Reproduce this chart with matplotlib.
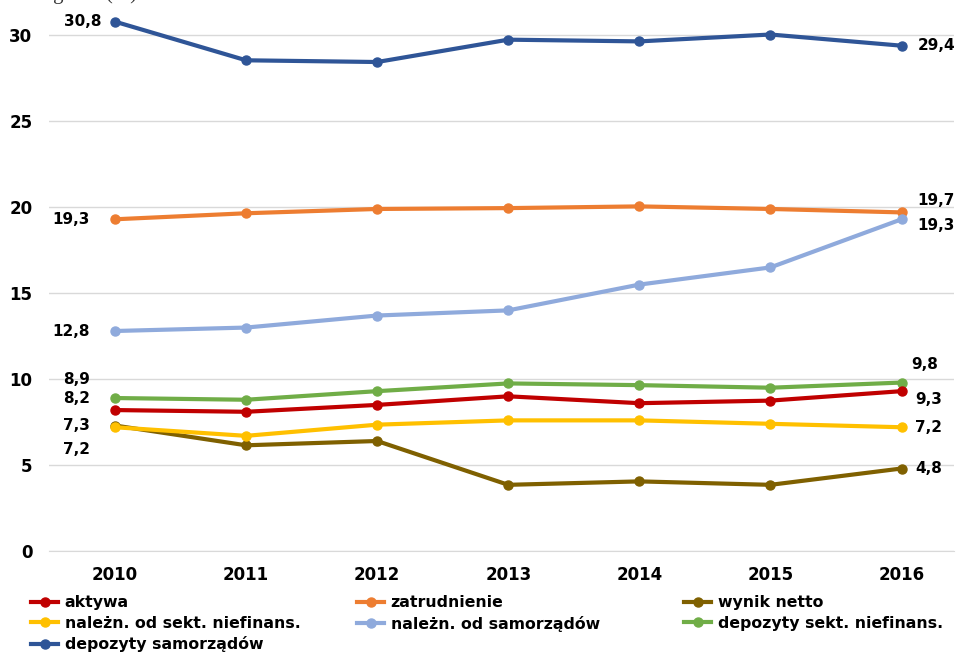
import matplotlib.pyplot as plt
from matplotlib.lines import Line2D

plt.rcParams['font.family'] = ['DejaVu Sans']

years = ['2010', '2011', '2012', '2013', '2014', '2015', '2016']

aktywa = [8.2, 8.1, 8.5, 9.0, 8.6, 8.75, 9.3]
zatrudnienie = [19.3, 19.65, 19.9, 19.95, 20.05, 19.9, 19.7]
wynik_netto = [7.3, 6.15, 6.4, 3.85, 4.05, 3.85, 4.8]
nalezn_niefin = [7.2, 6.7, 7.35, 7.6, 7.6, 7.4, 7.2]
nalezn_samorz = [12.8, 13.0, 13.7, 14.0, 15.5, 16.5, 19.3]
depoz_niefin = [8.9, 8.8, 9.3, 9.75, 9.65, 9.5, 9.8]
depoz_samorz = [30.8, 28.55, 28.45, 29.75, 29.65, 30.05, 29.4]

names = ['aktywa', 'zatrudnienie', 'wynik netto',
         'należn. od sekt. niefinans.', 'należn. od samorządów',
         'depozyty sekt. niefinans.', 'depozyty samorządów']
series = [aktywa, zatrudnienie, wynik_netto, nalezn_niefin,
          nalezn_samorz, depoz_niefin, depoz_samorz]
colors = ['#C00000', '#ED7D31', '#7F6000', '#FFC000',
          '#8FAADC', '#70AD47', '#2F5597']

fig = plt.figure(figsize=(9.56, 6.55), dpi=100)
ax = fig.add_axes([49 / 956, 104 / 655, 905 / 956, 550 / 655])

x = list(range(len(years)))
# draw order: later series on top
order = [6, 1, 4, 5, 0, 2, 3]
for z, i in enumerate(order):
    ax.plot(x, series[i], color=colors[i], lw=3.0, marker='o', ms=6.5,
            clip_on=False, zorder=3 + z)

ax.set_xlim(-0.503, 6.40)
ax.set_ylim(0, 32)
ax.set_yticks([0, 5, 10, 15, 20, 25, 30])
ax.set_xticks(x)
ax.set_xticklabels(years)
ax.grid(axis='y', color='#D9D9D9', lw=1)
ax.set_axisbelow(True)
for s in ax.spines.values():
    s.set_visible(False)
ax.spines['bottom'].set_visible(True)
ax.spines['bottom'].set_color('#D9D9D9')
ax.tick_params(length=0, labelsize=12)
for t in ax.get_xticklabels() + ax.get_yticklabels():
    t.set_fontweight('bold')
ax.tick_params(axis='x', pad=11)
ax.tick_params(axis='y', pad=12)


def fmt(v):
    return ('%.1f' % v).replace('.', ',')


def label(i, v, dx, dy):
    ax.annotate(fmt(v), (i, v), xytext=(dx, dy), textcoords='offset points',
                ha='right' if dx < 0 else 'left', va='center',
                fontsize=11, fontweight='bold', color='black', zorder=20)


# left-side value labels (2010)
label(0, depoz_samorz[0], -9.5, 0)
label(0, zatrudnienie[0], -18, 0)
label(0, nalezn_samorz[0], -18, 0)
label(0, depoz_niefin[0], -18, 13.7)
label(0, aktywa[0], -18, 8)
label(0, wynik_netto[0], -18, 0)
label(0, nalezn_niefin[0], -18, -16)

# right-side value labels (2016)
label(6, depoz_samorz[-1], 11.5, 0)
label(6, zatrudnienie[-1], 11, 8.6)
label(6, nalezn_samorz[-1], 11, -4.3)
label(6, depoz_niefin[-1], 7, 13)
label(6, aktywa[-1], 10, -5.8)
label(6, nalezn_niefin[-1], 10, 0)
label(6, wynik_netto[-1], 10, 0)

# caption above the plot, cut by the top edge
fig.text(137 / 956, 1.0 + 0.5 / 655, 'Udział banków regionu (%)',
         family='Liberation Serif', fontsize=15, ha='right', va='baseline',
         color='#333333')

# legend laid out row by row in three fixed columns
columns = [[0, 3, 6], [1, 4], [2, 5]]
col_x = [31, 357, 684]
for idx, cx in zip(columns, col_x):
    hs = [Line2D([], [], color=colors[i], lw=3.0, marker='o', ms=6.5) for i in idx]
    fig.legend(hs, [names[i] for i in idx], loc='upper left',
               bbox_to_anchor=(cx / 956, 1 - 595 / 655), frameon=False,
               handlelength=1.75, handletextpad=0.4, labelspacing=0.36,
               borderaxespad=0, borderpad=0,
               prop=dict(size=11.3, weight='bold'))

fig.savefig('out.png', dpi=100)
